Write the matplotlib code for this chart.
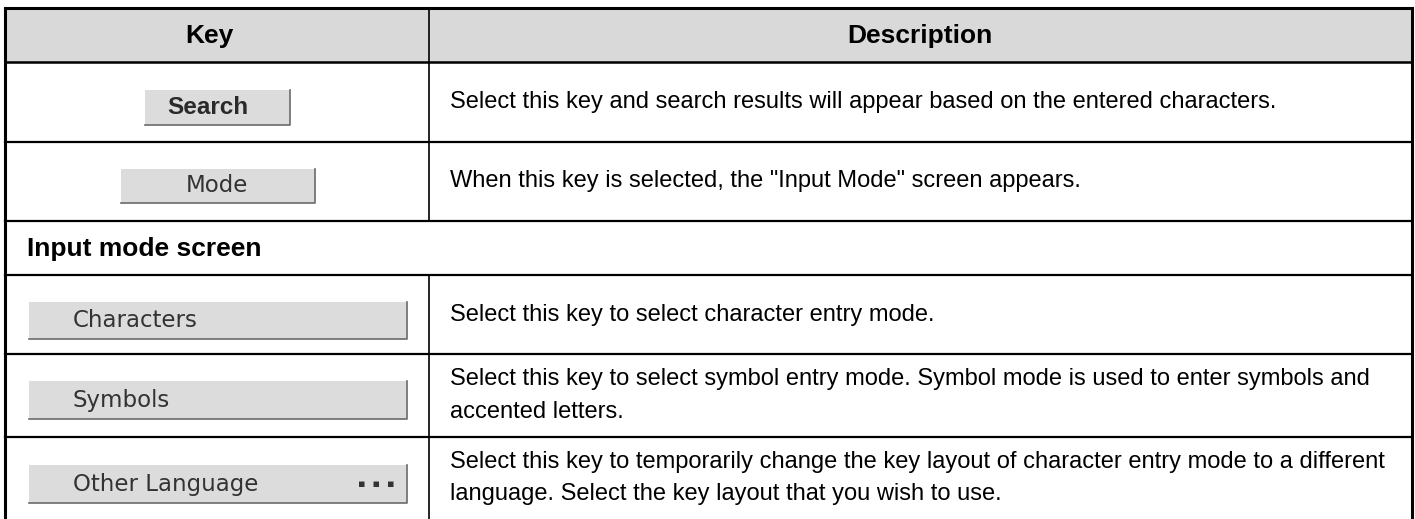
import matplotlib.pyplot as plt
from matplotlib.patches import Rectangle

# table content
headers = ["Key", "Description"]
section_title = "Input mode screen"
keys = ["Search", "Mode", "Characters", "Symbols", "Other Language"]
descriptions = [
    "Select this key and search results will appear based on the entered characters.",
    "When this key is selected, the \"Input Mode\" screen appears.",
    "Select this key to select character entry mode.",
    "Select this key to select symbol entry mode. Symbol mode is used to enter symbols and\naccented letters.",
    "Select this key to temporarily change the key layout of character entry mode to a different\nlanguage. Select the key layout that you wish to use.",
]

# layout in pixels
W, H = 1415, 519
left, right, top = 5, 1412, 8
col_x = 429
header_bottom = 62
row_edges = [62, 142, 221, 275, 354, 437]
key_rows = [(62, 142), (142, 221), (275, 354), (354, 437), (437, 520)]
buttons = [(145, 290, 90, 125), (121, 315, 169, 203), (29, 407, 302, 339),
           (29, 407, 381, 419), (29, 407, 465, 503)]

fig = plt.figure(figsize=(W / 100, H / 100), dpi=100)
ax = fig.add_axes([0, 0, 1, 1])
ax.set_xlim(0, W)
ax.set_ylim(H, 0)
ax.axis('off')

font = ['Liberation Sans', 'DejaVu Sans']

# header
ax.add_patch(Rectangle((left, top), right - left, header_bottom - top, facecolor='#d9d9d9', edgecolor='none'))
ax.text(209, (top + header_bottom) / 2 + 1, headers[0], ha='center', va='center',
        fontsize=19, fontweight='bold', family=font)
ax.text(920, (top + header_bottom) / 2 + 1, headers[1], ha='center', va='center',
        fontsize=19, fontweight='bold', family=font)

# grid lines
ax.plot([left, right], [top, top], color='black', lw=2.2, solid_capstyle='butt')
ax.plot([left, left], [top, H + 5], color='black', lw=2.2)
ax.plot([right, right], [top, H + 5], color='black', lw=2.2)
for y in row_edges:
    ax.plot([left, right], [y, y], color='black', lw=1.8 if y == header_bottom else 1.6)
for y0, y1 in key_rows:
    ax.plot([col_x, col_x], [y0, y1], color='black', lw=1.2)
ax.plot([col_x, col_x], [top, header_bottom], color='black', lw=1.2)

# section row
ax.text(27, (221 + 275) / 2 + 1, section_title, ha='left', va='center',
        fontsize=19, fontweight='bold', family=font)

# key buttons and descriptions
for i, (name, desc) in enumerate(zip(keys, descriptions)):
    x0, x1, y0, y1 = buttons[i]
    ax.add_patch(Rectangle((x0, y0), x1 - x0, y1 - y0, facecolor='#dcdcdd', edgecolor='none'))
    ax.plot([x1, x1, x0], [y0, y1, y1], color='#6a6a6a', lw=1.2)
    yc = (y0 + y1) / 2
    if i == 0:
        ax.text(208, yc, name, ha='center', va='center', fontsize=17.5,
                fontweight='bold', color='#2a2a2a', family=font)
    elif i == 1:
        ax.text(217, yc, name, ha='center', va='center', fontsize=16.5,
                color='#333333', family='DejaVu Sans')
    else:
        ax.text(x0 + 44, yc, name, ha='left', va='center', fontsize=16.5,
                color='#333333', family='DejaVu Sans')
        if name == "Other Language":
            ax.text(x1 - 12, yc, "\u25aa  \u25aa  \u25aa", ha='right', va='center', fontsize=8,
                    color='#333333', family='DejaVu Sans')
    ry0, ry1 = key_rows[i]
    ryc = (ry0 + min(ry1, 519)) / 2
    ax.text(450, ryc, desc, ha='left', va='center', fontsize=17, family=font,
            linespacing=1.6, color='black')

fig.savefig('out.png', dpi=100)
